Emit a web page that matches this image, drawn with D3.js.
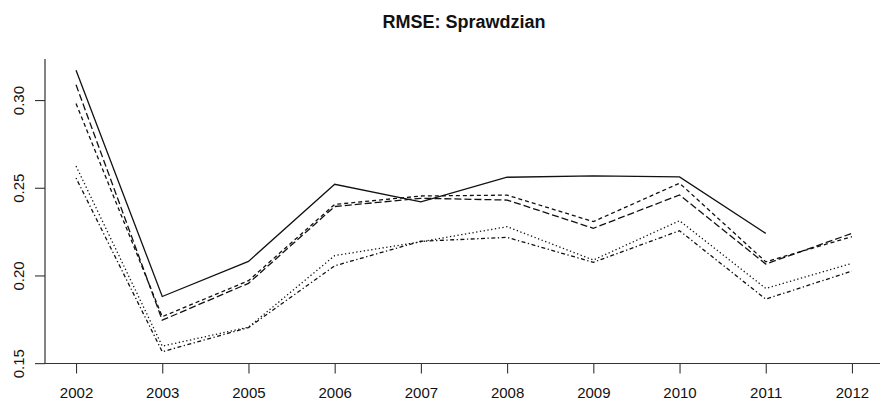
<!DOCTYPE html>
<html>
<head>
<meta charset="utf-8">
<script src="https://cdn.jsdelivr.net/npm/d3@7"></script>
<style>
  body { margin: 0; background: #fff; }
  svg { display: block; font-family: 'Liberation Sans', Arial, sans-serif; }
</style>
</head>
<body>
<svg id="chart"></svg>
<script>
// categories on the x axis (2004 is missing in the source)
const years = ['2002', '2003', '2005', '2006', '2007', '2008', '2009', '2010', '2011', '2012'];

// one array per line type
const solidSeries = [0.317, 0.188, 0.208, 0.252, 0.242, 0.256, 0.2568, 0.2562, 0.224, null];
const dashedSeries = [0.298, 0.1765, 0.197, 0.2405, 0.2453, 0.2458, 0.2307, 0.2526, 0.2078, 0.2221];
const longdashSeries = [0.3087, 0.1745, 0.1955, 0.2393, 0.244, 0.243, 0.2269, 0.2459, 0.2065, 0.224];
const dottedSeries = [0.2624, 0.1597, 0.1705, 0.2113, 0.2192, 0.2278, 0.2088, 0.2312, 0.1926, 0.2069];
const dotdashSeries = [0.2556, 0.1565, 0.1703, 0.2055, 0.2195, 0.2217, 0.2075, 0.2255, 0.1865, 0.2025];

const yTicks = [0.15, 0.20, 0.25, 0.30];

const series = [
  { values: solidSeries, dash: null },
  { values: dashedSeries, dash: '4,3' },
  { values: longdashSeries, dash: '7,3' },
  { values: dottedSeries, dash: '1.3,2.5' },
  { values: dotdashSeries, dash: '1.3,2.5,4,2.5' },
];

const config = { width: 880, height: 400 };
const box = { left: 45, right: 883, top: 59, bottom: 363 };

const svg = d3.select('#chart').attr('width', config.width).attr('height', config.height);

// R style 4% extension of the data range
const n = years.length;
const xPad = 0.04 * (n - 1);
const x = d3.scaleLinear()
  .domain([-xPad, n - 1 + xPad])
  .range([box.left, box.right]);

const all = series.flatMap(s => s.values).filter(v => v != null);
const [ymin, ymax] = d3.extent(all);
const yPad = 0.04 * (ymax - ymin);
const y = d3.scaleLinear()
  .domain([ymin - yPad, ymax + yPad])
  .range([box.bottom, box.top]);

// title
svg.append('text')
  .attr('x', (box.left + box.right) / 2)
  .attr('y', 28)
  .attr('text-anchor', 'middle')
  .style('font-size', '18px')
  .style('font-weight', 'bold')
  .style('fill', '#111')
  .text('RMSE: Sprawdzian');

// L shaped box
svg.append('path')
  .attr('d', `M${box.left},${box.top}V${box.bottom + 0.5}H${box.right}`)
  .attr('fill', 'none')
  .attr('stroke', '#333')
  .attr('stroke-width', 1.2);

// x axis
const xAxis = d3.axisBottom(x)
  .tickValues(d3.range(n))
  .tickFormat(i => years[i])
  .tickSize(10)
  .tickPadding(13);

const gx = svg.append('g')
  .attr('transform', `translate(0,${box.bottom + 0.5})`)
  .call(xAxis);
gx.select('.domain').remove();
gx.selectAll('.tick line').attr('stroke', '#333').attr('stroke-width', 1.1);
gx.selectAll('.tick text')
  .attr('dy', null)
  .attr('y', 34)
  .style('font-size', '15px')
  .style('fill', '#111');

// y axis, labels turned like R's las=0
const yAxis = d3.axisLeft(y)
  .tickValues(yTicks)
  .tickFormat(d3.format('.2f'))
  .tickSize(10);

const gy = svg.append('g')
  .attr('transform', `translate(${box.left},0)`)
  .call(yAxis);
gy.select('.domain').remove();
gy.selectAll('.tick line').attr('stroke', '#333').attr('stroke-width', 1.1);
gy.selectAll('.tick text')
  .attr('x', null)
  .attr('dy', null)
  .attr('transform', 'translate(-21,0) rotate(-90)')
  .attr('text-anchor', 'middle')
  .style('font-size', '15px')
  .style('fill', '#111');

// lines
const line = d3.line()
  .defined(d => d != null)
  .x((d, i) => x(i))
  .y(d => y(d));

svg.append('g')
  .selectAll('path')
  .data(series)
  .enter()
  .append('path')
  .attr('d', d => line(d.values))
  .attr('fill', 'none')
  .attr('stroke', '#111')
  .attr('stroke-width', 1.3)
  .attr('stroke-dasharray', d => d.dash);
</script>
</body>
</html>
